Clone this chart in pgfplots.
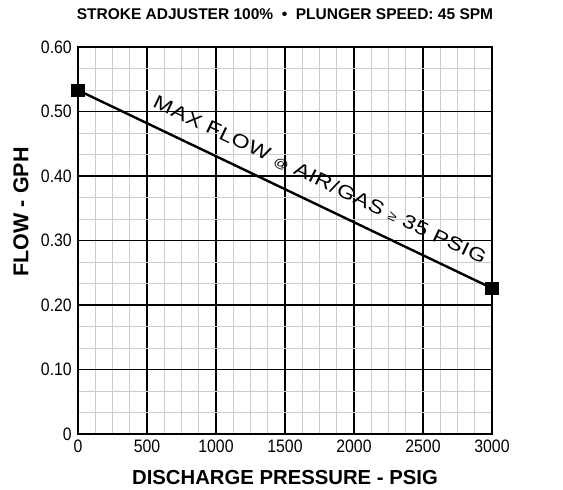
\documentclass[border=0pt]{standalone}
\usepackage{fontspec}
\setmainfont{Liberation Sans}
\newfontfamily\tickfont[FakeStretch=0.88]{Liberation Sans}
\newfontfamily\labfont[FakeStretch=1.22,LetterSpace=3]{Liberation Sans}
\usepackage{pgfplots}
\pgfplotsset{compat=1.18}
\definecolor{minorgrid}{gray}{0.8}
\begin{document}
\begin{tikzpicture}
\useasboundingbox (-78bp,-56bp) rectangle (485bp,434bp);
\begin{axis}[
  scale only axis, width=414bp, height=387bp,
  anchor=south west, at={(0,0)},
  xmin=0, xmax=3000, ymin=0, ymax=0.6,
  xtick={0,500,1000,1500,2000,2500,3000},
  xticklabels={0,500,1000,1500,2000,2500,3000},
  ytick={0,0.1,0.2,0.3,0.4,0.5,0.6},
  yticklabels={0,0.10,0.20,0.30,0.40,0.50,0.60},
  minor xtick={125,250,375,625,750,875,1125,1250,1375,1625,1750,1875,2125,2250,2375,2625,2750,2875},
  minor ytick={0.03333,0.06667,0.13333,0.16667,0.23333,0.26667,0.33333,0.36667,0.43333,0.46667,0.53333,0.56667},
  xmajorgrids, ymajorgrids, xminorgrids, yminorgrids,
  major grid style={black, line width=1.3bp},
  minor grid style={minorgrid, line width=0.9bp},
  major tick length=0pt, minor tick length=0pt,
  axis line style={line width=2.8bp},
  /pgf/number format/assume math mode=true,
  tick label style={font=\tickfont\fontsize{18bp}{20bp}\selectfont, inner sep=0pt},
  xticklabel style={anchor=north, yshift=-5.5bp},
  yticklabel style={anchor=east, xshift=-6bp},
  scaled ticks=false,
  xlabel={DISCHARGE PRESSURE - PSIG},
  ylabel={FLOW - GPH},
  xlabel style={font=\bfseries\fontsize{20.3bp}{22bp}\selectfont, at={(axis description cs:0.5,0)}, anchor=center, yshift=-44bp},
  ylabel style={font=\bfseries\fontsize{21.5bp}{23bp}\selectfont, at={(axis description cs:-0.138,0.574)}, anchor=center},
  clip=false,
]
\addplot[black, line width=2.4bp, mark=square*, mark size=5.5bp, mark options={solid}]
  coordinates {(0,0.533) (3000,0.226)}
  node[pos=0.56, sloped, above=11bp, font=\labfont\fontsize{19bp}{21bp}\selectfont]
  {MAX FLOW {\fontsize{12bp}{12bp}\selectfont @} AIR/GAS {\fontsize{13bp}{13bp}\selectfont ≥} 35 PSIG};
\end{axis}
\node[font=\bfseries\fontsize{15.5bp}{18bp}\selectfont] at (207bp,420bp)
  {STROKE ADJUSTER 100\%~~•~~PLUNGER SPEED: 45 SPM};
\end{tikzpicture}
\end{document}
